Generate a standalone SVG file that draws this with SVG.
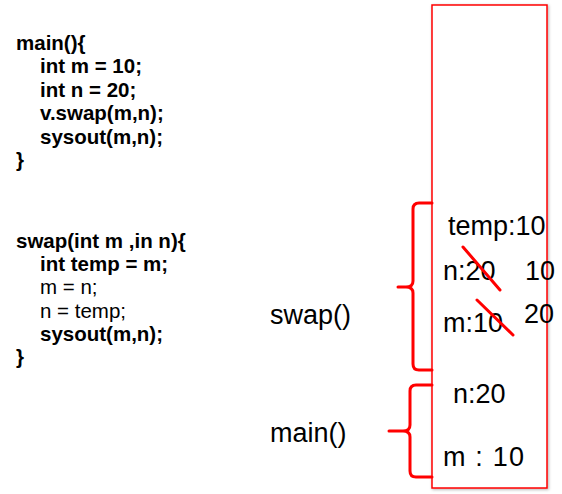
<svg xmlns="http://www.w3.org/2000/svg" width="562" height="494" viewBox="0 0 562 494">
<defs>
<style>
.code{font-family:"Liberation Sans",Arial,sans-serif;font-size:20.5px;fill:#000}
.b{font-weight:bold}
.lbl{font-family:"Liberation Sans",Arial,sans-serif;font-size:27px;fill:#000}
.red{fill:none;stroke:#ff0000;stroke-width:3;stroke-linecap:round}
</style>
<filter id="sh" x="-10%" y="-10%" width="120%" height="120%">
<feDropShadow dx="1" dy="1" stdDeviation="1.5" flood-color="#000" flood-opacity="0.3"/>
</filter>
</defs>
<rect width="562" height="494" fill="#fff"/>
<g id="main-code">
<text class="code b" x="16" y="50">main(){</text>
<text class="code b" x="40" y="73">int m = 10;</text>
<text class="code b" x="40" y="97">int n = 20;</text>
<text class="code b" x="40" y="120">v.swap(m,n);</text>
<text class="code b" x="40" y="144">sysout(m,n);</text>
<text class="code b" x="16" y="167">}</text>
</g>
<g id="swap-code">
<text class="code b" x="16" y="248">swap(int m ,in n){</text>
<text class="code b" x="40" y="271">int temp = m;</text>
<text class="code" x="40" y="294">m = n;</text>
<text class="code" x="40" y="318">n = temp;</text>
<text class="code b" x="40" y="341">sysout(m,n);</text>
<text class="code b" x="16" y="364">}</text>
</g>
<g id="stack">
<rect x="432" y="5" width="115" height="483" fill="#fff" stroke="#ff0000" stroke-width="1.5" filter="url(#sh)"/>
</g>
<g id="connectors">
<path id="swap-brace" class="red" d="M432,203 H419 Q413,203 413,209 V281 Q413,287 406,287 H398 M406,287 Q413,287 413,293 V364 Q413,370 419,370 H432"/>
<path id="main-brace" class="red" d="M432,385 H416 Q410,385 410,391 V425 Q410,431 403,431 H389 M403,431 Q410,431 410,437 V471 Q410,477 416,477 H432"/>
</g>
<g id="swap-frame">
<text class="lbl" x="270" y="324">swap()</text>
<text class="lbl" x="448" y="235">temp:10</text>
<text class="lbl" x="443" y="280">n:20</text>
<text class="lbl" x="525" y="280">10</text>
<text class="lbl" x="443" y="332">m:10</text>
<text class="lbl" x="524" y="323">20</text>
<line class="red" x1="463" y1="247" x2="500" y2="290"/>
<line class="red" x1="477" y1="300" x2="513" y2="335"/>
</g>
<g id="main-frame">
<text class="lbl" x="270" y="442">main()</text>
<text class="lbl" x="453" y="403">n:20</text>
<text class="lbl" x="443" y="466" textLength="81">m : 10</text>
</g>
</svg>
